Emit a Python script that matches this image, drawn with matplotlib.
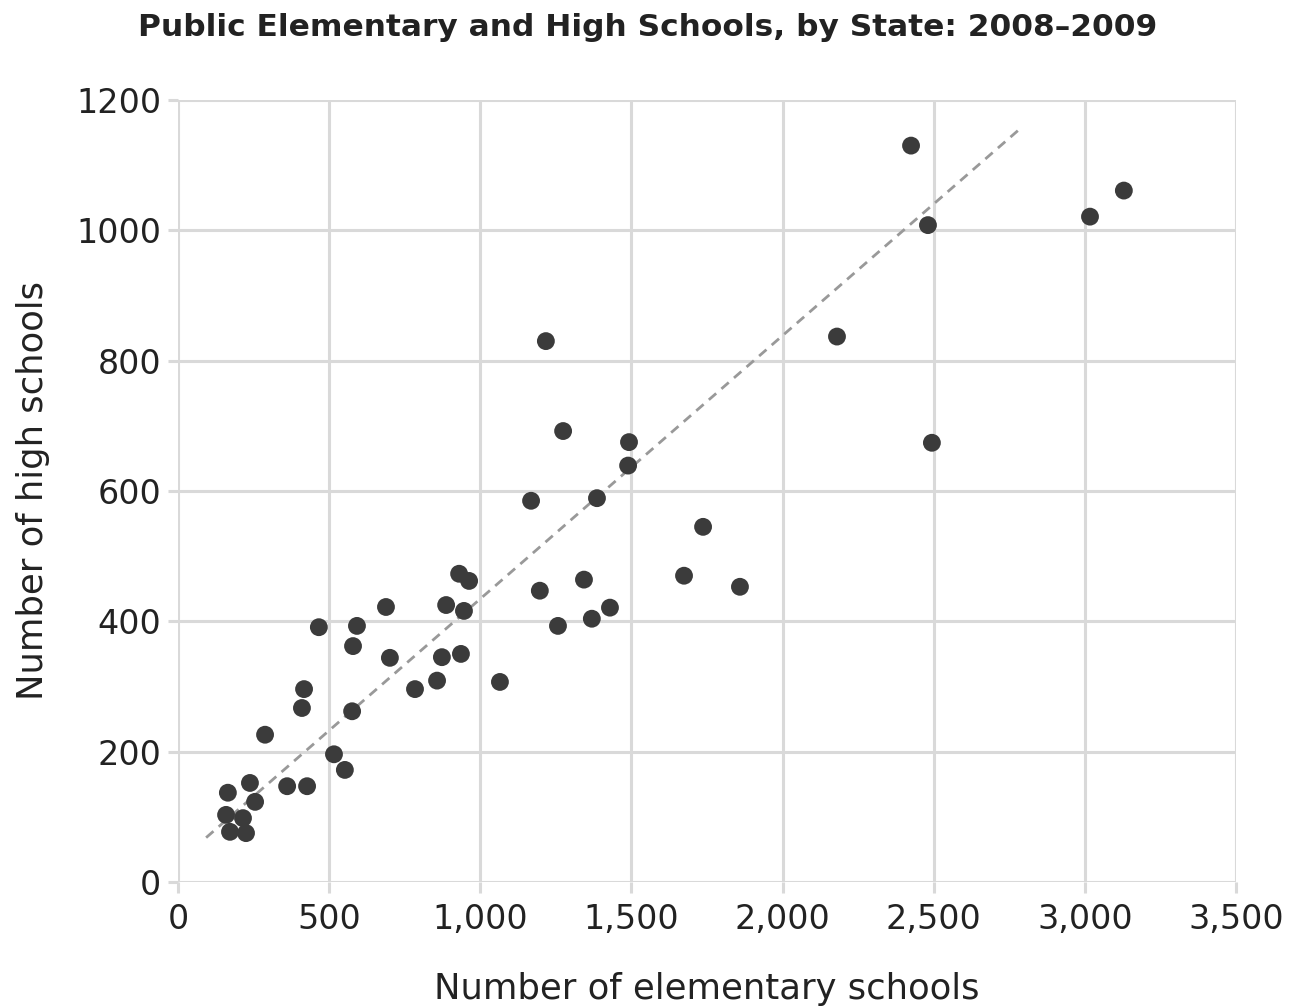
import numpy as np
import matplotlib
matplotlib.use("Agg")
import matplotlib.pyplot as plt
from matplotlib.ticker import FuncFormatter

# number of elementary / high schools per state
elementary = [2425, 2481, 3017, 3129, 2180, 1217, 2494, 1274, 1492, 1489,
              1168, 1386, 1737, 1674, 1859, 1197, 1343, 1257, 1369, 1429,
              1065, 930, 963, 887, 946, 873, 936, 857, 784, 688,
              701, 592, 579, 576, 466, 417, 410, 516, 552, 288,
              361, 427, 238, 165, 255, 159, 215, 172, 225]
high = [1130, 1008, 1021, 1061, 837, 830, 674, 692, 675, 639,
        585, 589, 545, 470, 453, 447, 464, 393, 404, 421,
        307, 473, 462, 425, 416, 345, 350, 309, 296, 422,
        344, 393, 362, 262, 391, 296, 267, 196, 172, 226,
        147, 147, 152, 137, 123, 103, 98, 77, 75]

# trend line as drawn in the source
trend_x = [93, 2780]
trend_slope = 0.404
trend_intercept = 30.5

x_ticks = [0, 500, 1000, 1500, 2000, 2500, 3000, 3500]
y_ticks = [0, 200, 400, 600, 800, 1000, 1200]

grid_col = '#d9d9d9'
txt_col = '#222222'

fig = plt.figure(figsize=(12.96, 10.08), dpi=100)
ax = fig.add_axes([178/1296, 126/1008, 1058/1296, 782/1008])

ax.set_xlim(0, 3500)
ax.set_ylim(0, 1200)
ax.set_xticks(x_ticks)
ax.set_yticks(y_ticks)
ax.xaxis.set_major_formatter(FuncFormatter(lambda v, p: f"{int(v):,}"))
ax.grid(True, color=grid_col, linewidth=2.2, zorder=0)
for s in ax.spines.values():
    s.set_visible(False)

ax.tick_params(axis='x', length=8, width=2.2, color=grid_col, pad=7,
               labelsize=24, labelcolor=txt_col)
ax.tick_params(axis='y', length=7, width=2.2, color=grid_col, pad=5,
               labelsize=24, labelcolor=txt_col)

tx = np.array(trend_x, dtype=float)
ax.plot(tx, trend_slope * tx + trend_intercept, linestyle=(0, (3.5, 2.5)),
        color='#999999', linewidth=2, zorder=2)
ax.scatter(elementary, high, s=165, color='#3b3b3b', edgecolors='none', zorder=3)

ax.set_xlabel("Number of elementary schools", fontsize=25.5, color=txt_col, labelpad=26)
ax.set_ylabel("Number of high schools", fontsize=25.5, color=txt_col, labelpad=19)
fig.text(0.5, 1 - 28/1008, "Public Elementary and High Schools, by State: 2008\u20132009",
         ha='center', va='center', fontsize=22.5, fontweight='bold', color=txt_col)

fig.savefig("out.png", dpi=100)
